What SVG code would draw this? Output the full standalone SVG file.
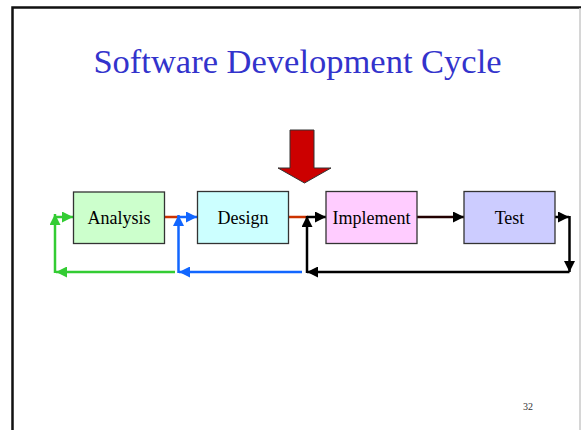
<svg xmlns="http://www.w3.org/2000/svg" width="581" height="430" viewBox="0 0 581 430">
  <style>
    .box { stroke: #333333; stroke-width: 1.3; }
    .label { font-family: "Liberation Serif", "Times New Roman", serif; font-size: 18px; fill: #000000; text-anchor: middle; }
    .line { fill: none; stroke-width: 2.5; }
    .green { stroke: #33CC33; }
    .blue { stroke: #1166FF; }
    .red { stroke: #CC3300; }
    .black { stroke: #000000; }
    .dark { stroke: #220000; }
  </style>
  <defs>
    <marker id="arrowGreen" viewBox="0 0 10 10" refX="10" refY="5" markerWidth="11" markerHeight="11" markerUnits="userSpaceOnUse" orient="auto">
      <path d="M0,0 L10,5 L0,10 z" fill="#33CC33"/>
    </marker>
    <marker id="arrowBlue" viewBox="0 0 10 10" refX="10" refY="5" markerWidth="11" markerHeight="11" markerUnits="userSpaceOnUse" orient="auto">
      <path d="M0,0 L10,5 L0,10 z" fill="#1166FF"/>
    </marker>
    <marker id="arrowBlack" viewBox="0 0 10 10" refX="10" refY="5" markerWidth="11" markerHeight="11" markerUnits="userSpaceOnUse" orient="auto">
      <path d="M0,0 L10,5 L0,10 z" fill="#000000"/>
    </marker>
  </defs>

  <rect x="0" y="0" width="581" height="430" fill="#FFFFFF"/>

  <!-- slide frame -->
  <path d="M12.5,430 V7.5 H581" fill="none" stroke="#111111" stroke-width="2.5"/>
  <line x1="580" y1="8" x2="580" y2="430" stroke="#C8C8C8" stroke-width="1.5"/>

  <!-- title -->
  <text x="297.5" y="73" font-family="Liberation Serif, Times New Roman, serif" font-size="34.5" fill="#3333CC" text-anchor="middle">Software Development Cycle</text>

  <!-- entry arrow -->
  <g id="entry-arrow">
    <polygon points="290,130 314,130 314,168 331,168 304.5,183 278,168 290,168" fill="#CC0000" stroke="#333333" stroke-width="1"/>
  </g>

  <!-- connectors -->
  <g id="connectors">
    <!-- Analysis -> Design -->
    <line class="line red" x1="164" y1="217" x2="179" y2="217"/>
    <line class="line blue" x1="178" y1="217" x2="197" y2="217" marker-end="url(#arrowBlue)"/>
    <!-- Design -> Implement -->
    <line class="line red" x1="288" y1="217" x2="308" y2="217"/>
    <line class="line black" x1="307" y1="217" x2="326" y2="217" marker-end="url(#arrowBlack)"/>
    <!-- Implement -> Test -->
    <line class="line dark" x1="417" y1="217" x2="464" y2="217" marker-end="url(#arrowBlack)"/>

    <!-- Test feedback loop back to Implement -->
    <line class="line black" x1="555" y1="217" x2="569" y2="217" marker-end="url(#arrowBlack)"/>
    <line class="line black" x1="569.5" y1="216" x2="569.5" y2="272" marker-end="url(#arrowBlack)"/>
    <line class="line black" x1="569.5" y1="272" x2="307" y2="272" marker-end="url(#arrowBlack)"/>
    <line class="line black" x1="307" y1="273" x2="307" y2="216" marker-end="url(#arrowBlack)"/>

    <!-- Design feedback loop back to Design entry -->
    <line class="line blue" x1="302" y1="272" x2="179" y2="272" marker-end="url(#arrowBlue)"/>
    <line class="line blue" x1="178.5" y1="273" x2="178.5" y2="215" marker-end="url(#arrowBlue)"/>

    <!-- Analysis feedback loop -->
    <line class="line green" x1="175" y1="272" x2="56" y2="272" marker-end="url(#arrowGreen)"/>
    <line class="line green" x1="55" y1="273" x2="55" y2="214" marker-end="url(#arrowGreen)"/>
    <line class="line green" x1="54" y1="217" x2="73" y2="217" marker-end="url(#arrowGreen)"/>
  </g>

  <!-- process boxes -->
  <g id="analysis">
    <rect class="box" x="73.5" y="192" width="91" height="51.5" fill="#CCFFCC"/>
    <text class="label" x="119" y="224">Analysis</text>
  </g>
  <g id="design">
    <rect class="box" x="197.5" y="191.5" width="91" height="52" fill="#CCFFFF"/>
    <text class="label" x="243" y="224">Design</text>
  </g>
  <g id="implement">
    <rect class="box" x="326" y="191.5" width="91" height="52" fill="#FFCCFF"/>
    <text class="label" x="371.5" y="224">Implement</text>
  </g>
  <g id="test">
    <rect class="box" x="464" y="191.5" width="91" height="52" fill="#CCCCFF"/>
    <text class="label" x="509.5" y="224">Test</text>
  </g>

  <!-- page number -->
  <text x="528" y="410" font-family="Liberation Serif, Times New Roman, serif" font-size="10" fill="#333333" text-anchor="middle">32</text>
</svg>
